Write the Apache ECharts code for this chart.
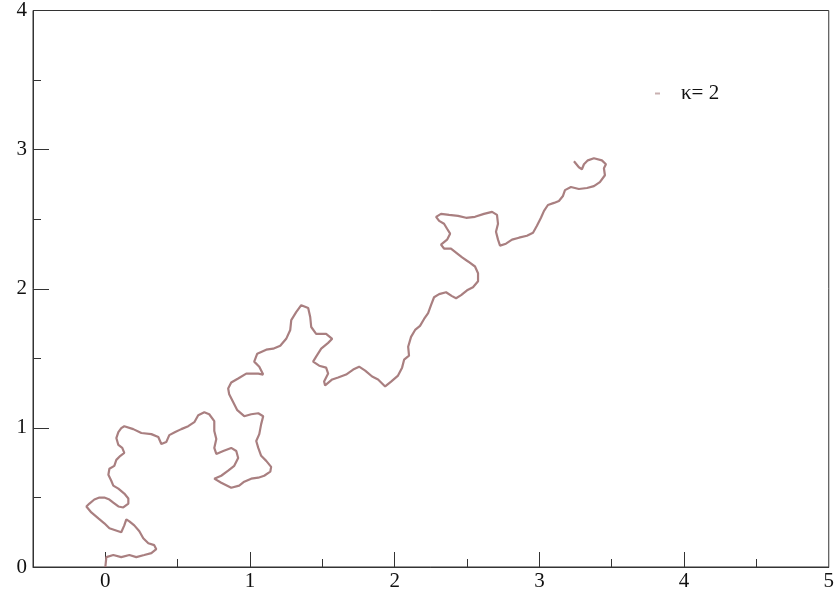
<!DOCTYPE html>
<html>
<head>
<meta charset="utf-8">
<script src="https://cdn.jsdelivr.net/npm/echarts@6/dist/echarts.min.js"></script>
<style>
html,body{margin:0;padding:0;background:#fff;}
#c{width:837px;height:598px;}
</style>
</head>
<body>
<div id="c"></div>
<script>
// ---- data ----
const seriesName = 'κ= 2';
const curveX = [
0.000,0.007,0.055,0.110,0.166,0.214,0.269,0.318,0.352,0.338,0.297,0.262,0.235,0.200,0.166,0.145,0.131,0.110,0.069,0.028,
-0.007,-0.048,-0.097,-0.131,-0.110,-0.076,-0.041,-0.007,0.028,0.055,0.090,0.124,0.159,0.159,0.131,0.090,0.055,0.041,0.021,0.028,
0.062,0.076,0.104,0.131,0.117,0.090,0.076,0.090,0.110,0.131,0.193,0.249,0.318,0.366,0.387,0.421,0.442,0.483,0.525,0.573,
0.615,0.642,0.684,0.718,0.753,0.753,0.767,0.753,0.767,0.815,0.870,0.905,0.918,0.891,0.849,0.801,0.753,0.801,0.870,0.925,
0.960,1.008,1.057,1.098,1.140,1.146,1.112,1.077,1.057,1.043,1.064,1.077,1.091,1.057,1.008,0.960,0.912,0.884,0.856,0.849,
0.870,0.918,0.974,1.057,1.091,1.064,1.029,1.050,1.112,1.160,1.209,1.250,1.278,1.285,1.319,1.354,1.402,1.416,1.423,1.457,
1.526,1.568,1.540,1.492,1.457,1.436,1.478,1.526,1.540,1.512,1.519,1.568,1.609,1.664,1.713,1.754,1.796,1.844,1.885,1.934,
1.975,2.023,2.051,2.065,2.099,2.093,2.113,2.141,2.175,2.203,2.231,2.251,2.272,2.307,2.355,2.396,2.424,2.459,2.500,2.541,
2.576,2.576,2.555,2.507,2.466,2.424,2.389,2.341,2.320,2.362,2.383,2.362,2.341,2.307,2.286,2.320,2.376,2.438,2.493,2.555,
2.617,2.673,2.707,2.714,2.700,2.714,2.728,2.769,2.811,2.859,2.914,2.956,2.983,3.011,3.032,3.059,3.101,3.135,3.163,3.177,
3.218,3.273,3.329,3.377,3.418,3.453,3.446,3.460,3.432,3.377,3.335,3.308,3.294,3.273,3.239
];
const curveY = [
0.000,0.071,0.086,0.071,0.086,0.071,0.086,0.100,0.128,0.157,0.171,0.207,0.257,0.299,0.328,0.342,0.299,0.250,0.264,0.278,
0.314,0.349,0.392,0.435,0.456,0.485,0.499,0.499,0.485,0.463,0.435,0.428,0.456,0.492,0.528,0.563,0.585,0.620,0.663,0.706,
0.727,0.770,0.799,0.820,0.856,0.877,0.927,0.970,0.998,1.012,0.991,0.963,0.955,0.934,0.884,0.898,0.948,0.970,0.991,1.012,
1.041,1.091,1.112,1.098,1.048,0.977,0.920,0.856,0.813,0.834,0.856,0.834,0.784,0.727,0.692,0.656,0.635,0.606,0.570,0.585,
0.613,0.635,0.642,0.656,0.685,0.720,0.763,0.799,0.856,0.906,0.955,1.027,1.084,1.105,1.098,1.084,1.127,1.184,1.241,1.283,
1.326,1.355,1.390,1.390,1.383,1.440,1.476,1.533,1.562,1.569,1.590,1.640,1.704,1.775,1.832,1.882,1.861,1.797,1.725,1.676,
1.676,1.640,1.611,1.569,1.512,1.476,1.447,1.433,1.390,1.333,1.305,1.348,1.362,1.383,1.419,1.440,1.412,1.369,1.348,1.298,
1.333,1.376,1.433,1.490,1.519,1.583,1.654,1.704,1.733,1.783,1.825,1.882,1.939,1.961,1.975,1.947,1.932,1.954,1.989,2.011,
2.054,2.111,2.160,2.196,2.225,2.260,2.289,2.289,2.317,2.353,2.396,2.431,2.467,2.488,2.517,2.538,2.531,2.524,2.510,2.517,
2.538,2.553,2.531,2.467,2.410,2.353,2.310,2.324,2.353,2.367,2.381,2.403,2.453,2.510,2.560,2.602,2.617,2.631,2.667,2.709,
2.731,2.717,2.724,2.738,2.767,2.816,2.866,2.895,2.923,2.938,2.923,2.895,2.859,2.873,2.916
];
const xLabelValues = [0, 1, 2, 3, 4, 5];
const xMajorTicks = [0, 1, 2, 3, 4];
const xMinorTicks = [0.5, 1.5, 2.5, 3.5, 4.5];
const xRange = [-0.5, 5];
const yRange = [0, 4];

// ---- chart ----
const points = curveX.map((x, i) => [x, curveY[i]]);
const font = "'Liberation Serif', 'Times New Roman', Times, serif";
const chart = echarts.init(document.getElementById('c'), null, {renderer: 'canvas'});
chart.setOption({
  animation: false,
  backgroundColor: '#ffffff',
  grid: {left: 33, right: 7, top: 6, bottom: 31, show: true, borderColor: '#333', borderWidth: 1},
  legend: {
    left: 650, top: 78,
    icon: 'rect', itemWidth: 5, itemHeight: 2,
    textStyle: {fontFamily: font, fontSize: 21, color: '#111', padding: [0, 0, 0, 16]},
    data: [seriesName]
  },
  xAxis: [{
    type: 'value', min: xRange[0], max: xRange[1],
    axisLine: {show: true, onZero: false, lineStyle: {color: '#333', width: 1}},
    axisTick: {show: true, inside: true, length: 15, customValues: xMajorTicks, lineStyle: {color: '#333', width: 1}},
    axisLabel: {customValues: xLabelValues, fontFamily: font, fontSize: 21, color: '#111', margin: 4,
      formatter: v => String(v)},
    splitLine: {show: false}
  }, {
    type: 'value', min: xRange[0], max: xRange[1], position: 'bottom',
    axisLine: {show: false, onZero: false},
    axisTick: {show: true, inside: true, length: 8, customValues: xMinorTicks, lineStyle: {color: '#333', width: 1}},
    axisLabel: {show: false},
    splitLine: {show: false}
  }],
  yAxis: {
    type: 'value', min: yRange[0], max: yRange[1], interval: 1, position: 'left',
    axisLine: {show: true, onZero: false, lineStyle: {color: '#333', width: 1}},
    axisTick: {show: true, inside: true, length: 16, lineStyle: {color: '#333', width: 1}},
    minorTick: {show: true, splitNumber: 2, length: 8, lineStyle: {color: '#333', width: 1}},
    axisLabel: {fontFamily: font, fontSize: 21, color: '#111', margin: 6},
    splitLine: {show: false}
  },
  series: [{
    name: seriesName,
    type: 'line',
    xAxisIndex: 0,
    data: points,
    showSymbol: false,
    symbol: 'none',
    smooth: false,
    lineStyle: {color: '#a97f80', width: 2.2},
    itemStyle: {color: '#c8b0b0'},
    z: 3
  }]
});
</script>
</body>
</html>
